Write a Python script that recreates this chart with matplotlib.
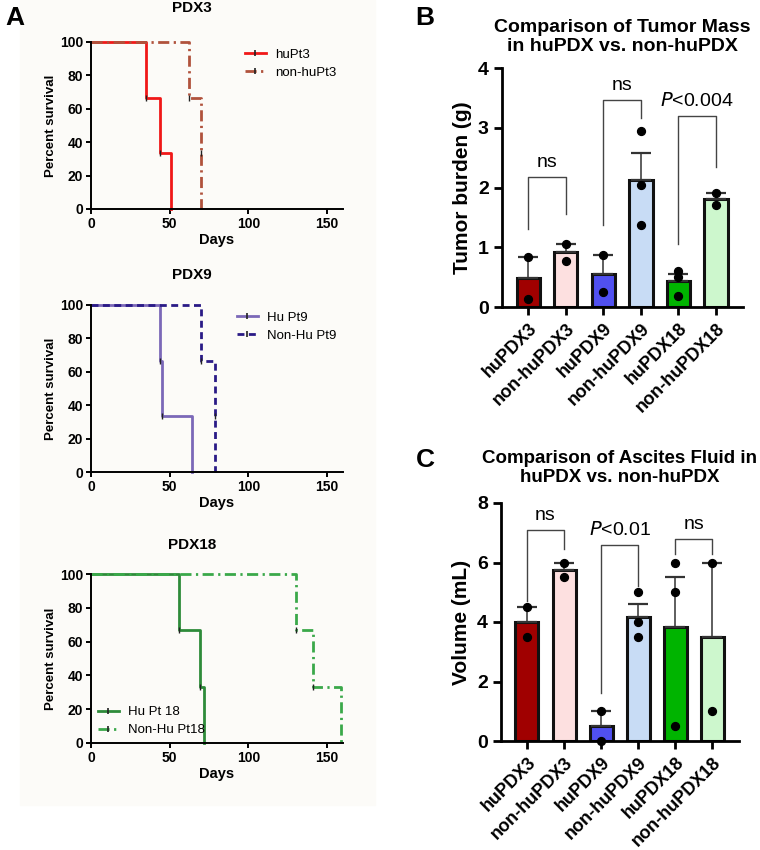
import numpy as np
import matplotlib.pyplot as plt
from matplotlib.patches import Rectangle
from matplotlib.lines import Line2D

plt.rcParams['font.family'] = ['Liberation Sans', 'DejaVu Sans']

# ---- survival data (days to event, n=3 per group) ----
pdx3_hu = [35, 44, 51]
pdx3_non = [62, 70, 70]
pdx9_hu = [44, 45, 64]
pdx9_non = [70, 79, 79]
pdx18_hu = [56, 69, 72]
pdx18_non = [130, 141, 159]

# ---- bar data (individual mice) ----
groups = ['huPDX3', 'non-huPDX3', 'huPDX9', 'non-huPDX9', 'huPDX18', 'non-huPDX18']
tumor_pts = [[0.83, 0.14], [1.06, 0.77], [0.87, 0.25],
             [2.94, 2.05, 1.37], [0.60, 0.50, 0.19], [1.90, 1.70]]
ascites_pts = [[4.5, 3.5], [6.0, 5.5], [1.0, 0.0],
               [5.0, 4.0, 3.5], [6.0, 5.0, 0.5], [6.0, 1.0]]
bar_colors = ['#a00000', '#fde0e0', '#5050f0', '#c8dcf5', '#00b400', '#cdf7cd']

# brackets: (left idx, right idx, top, left leg end, right leg end, label)
tumor_brackets = [(0, 1, 2.17, 1.30, 1.56, 'ns'),
                  (2, 3, 3.47, 1.38, 3.16, 'ns'),
                  (4, 5, 3.19, 1.05, 2.35, 'P<0.004')]
ascites_brackets = [(0, 1, 7.1, 4.7, 6.45, 'ns'),
                    (2, 3, 6.6, 1.6, 5.2, 'P<0.01'),
                    (4, 5, 6.8, 6.3, 6.3, 'ns')]


def km(times, n=3):
    t = sorted(times)
    xs = [0]
    ys = [100.0]
    for k, ti in enumerate(t):
        xs.append(ti)
        ys.append(100.0 * (n - k - 1) / n)
    return xs, ys


fig = plt.figure(figsize=(7.6, 8.5), dpi=100)
fig.patches.append(Rectangle((20 / 760, 1 - 805 / 850), 355 / 760, 805 / 850,
                             transform=fig.transFigure, color='#fcfbf8', zorder=-10))


def surv_panel(rect, title, title_y, a, b, la, lb, ca, cb, lsb, legloc):
    ax = fig.add_axes(rect)
    ax.set_facecolor('none')
    handles = []
    for times, lab, col, ls in [(a, la, ca, '-'), (b, lb, cb, lsb)]:
        xs, ys = km(times)
        ln, = ax.step(xs, ys, where='post', color=col, lw=2.0, ls=ls, clip_on=False)
        ax.plot(xs[1:-1], ys[1:-1], ls='none', marker='|', ms=4, mew=1, color='#222', zorder=4)
        tick = Line2D([], [], ls='none', marker='|', ms=5, mew=1.2, color='#222')
        handles.append((ln, tick))
    ax.set_xlim(0, 160)
    ax.set_ylim(0, 100)
    ax.set_xticks([0, 50, 100, 150])
    ax.set_yticks([0, 20, 40, 60, 80, 100])
    for s in ['top', 'right']:
        ax.spines[s].set_visible(False)
    for s in ['left', 'bottom']:
        ax.spines[s].set_linewidth(1.4)
    ax.tick_params(width=1.4, length=3.5, labelsize=10, pad=2)
    for t in ax.get_xticklabels() + ax.get_yticklabels():
        t.set_fontweight('bold')
    ax.set_xlabel('Days', fontsize=10.5, fontweight='bold', labelpad=2)
    ax.set_ylabel('Percent survival', fontsize=9.5, fontweight='bold', labelpad=2)
    fig.text(192 / 760, 1 - title_y / 850, title, fontsize=11, fontweight='bold',
             ha='center', va='center')
    ax.legend(handles, [la, lb], loc=legloc, frameon=False, fontsize=9.5, handlelength=1.6,
              borderaxespad=0.1, labelspacing=0.45, handletextpad=0.7)
    return ax


surv_panel([91 / 760, 1 - 209 / 850, 252 / 760, 167 / 850], 'PDX3', 8,
           pdx3_hu, pdx3_non, 'huPt3', 'non-huPt3', '#f01818', '#b0523c', (0, (4, 1.6, 0.8, 1.6)),
           'upper right')
surv_panel([91 / 760, 1 - 472 / 850, 252 / 760, 167 / 850], 'PDX9', 275,
           pdx9_hu, pdx9_non, 'Hu Pt9', 'Non-Hu Pt9', '#7b68b8', '#2a1a86', (0, (2.5, 1.6)),
           'upper right')
surv_panel([91 / 760, 1 - 743 / 850, 252 / 760, 169 / 850], 'PDX18', 545,
           pdx18_hu, pdx18_non, 'Hu Pt 18', 'Non-Hu Pt18', '#2e8b3a', '#3aa84a', (0, (4, 1.6, 0.8, 1.6)),
           'lower left')


def bar_panel(rect, pts, brackets, ylim, yticks, ylabel, title, tsize, tpad):
    ax = fig.add_axes(rect)
    ax.set_facecolor('none')
    x = np.arange(len(groups))
    means = [np.mean(p) for p in pts]
    sems = [np.std(p, ddof=1) / np.sqrt(len(p)) for p in pts]
    ax.bar(x, means, width=0.62, color=bar_colors, edgecolor='#111', linewidth=2.2, zorder=2)
    ax.errorbar(x, means, yerr=[np.zeros(len(x)), sems], fmt='none', ecolor='#333',
                elinewidth=1.1, capsize=7, capthick=1.6, zorder=3)
    for i, p in enumerate(pts):
        ax.scatter([i] * len(p), p, s=32, color='black', zorder=4, clip_on=False)
    for i, j, top, l1, l2, lab in brackets:
        ax.plot([i, i, j, j], [l1, top, top, l2], color='#444', lw=1.0, zorder=3)
        if lab.startswith('P'):
            ax.text((i + j) / 2, top + ylim * 0.025, r'$\it{P}$' + lab[1:], ha='center',
                    va='bottom', fontsize=14)
        else:
            ax.text((i + j) / 2, top + ylim * 0.025, lab, ha='center', va='bottom', fontsize=14)
    ax.set_xlim(-0.7, 5.72)
    ax.set_ylim(0, ylim)
    ax.set_yticks(yticks)
    ax.set_xticks(x)
    ax.set_xticklabels(groups, rotation=45, ha='right', rotation_mode='anchor',
                       fontsize=13, fontweight='bold')
    for t in ax.get_yticklabels():
        t.set_fontweight('bold')
    ax.tick_params(axis='y', labelsize=14, width=2.0, length=6)
    ax.tick_params(axis='x', width=2.0, length=6)
    for s in ['top', 'right']:
        ax.spines[s].set_visible(False)
    for s in ['left', 'bottom']:
        ax.spines[s].set_linewidth(2.0)
    ax.set_ylabel(ylabel, fontsize=15, fontweight='bold', labelpad=4)
    ax.set_title(title, fontsize=tsize, fontweight='bold', pad=tpad, linespacing=1.15)
    return ax


bar_panel([502 / 760, 1 - 307 / 850, 241 / 760, 239 / 850], tumor_pts, tumor_brackets,
          4, [0, 1, 2, 3, 4], 'Tumor burden (g)',
          'Comparison of Tumor Mass\nin huPDX vs. non-huPDX', 14, 12)
bar_panel([501 / 760, 1 - 741 / 850, 238 / 760, 238 / 850], ascites_pts, ascites_brackets,
          8, [0, 2, 4, 6, 8], 'Volume (mL)',
          'Comparison of Ascites Fluid in\nhuPDX vs. non-huPDX', 13.5, 15)

fig.text(15 / 760, 1 - 18 / 850, 'A', fontsize=19, fontweight='bold', ha='center', va='center')
fig.text(425 / 760, 1 - 18 / 850, 'B', fontsize=19, fontweight='bold', ha='center', va='center')
fig.text(425 / 760, 1 - 460 / 850, 'C', fontsize=19, fontweight='bold', ha='center', va='center')

fig.savefig('out.png', dpi=100)
